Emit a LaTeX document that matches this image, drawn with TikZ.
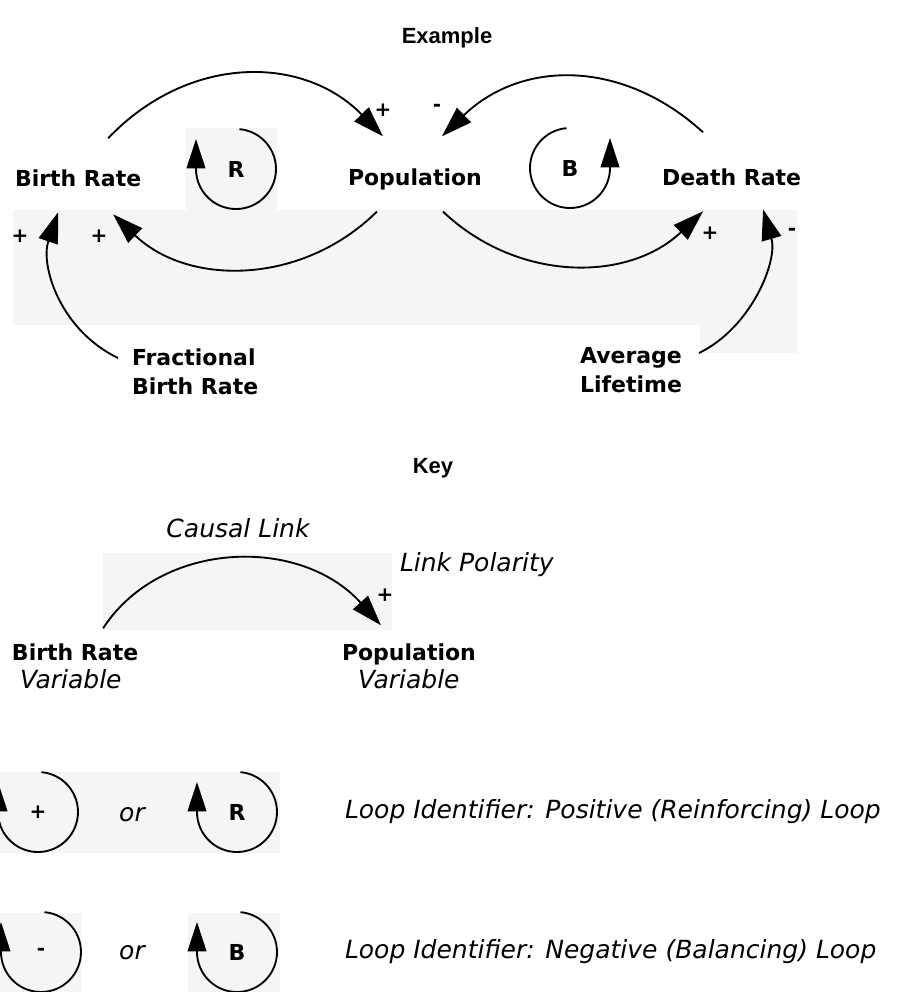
\documentclass[tikz,border=0pt]{standalone}
\usepackage{fontspec}
\newfontfamily\dvs{DejaVu Sans}
\newfontfamily\lsans{Liberation Sans}
\usetikzlibrary{arrows.meta}
\begin{document}
\begin{tikzpicture}[x=0.75pt,y=-0.75pt,
  every node/.style={inner sep=0pt,outer sep=0pt},
  var/.style={font=\fontsize{16.5}{20}\selectfont\dvs\bfseries},
  multivar/.style={align=left,font=\fontsize{16.5}{21.75}\selectfont\dvs\bfseries},
  heading/.style={font=\fontsize{16.5}{20}\selectfont\lsans\bfseries},
  note/.style={font=\fontsize{18.75}{22}\selectfont\dvs\itshape},
  polarity/.style={font=\fontsize{15}{17}\selectfont\dvs\bfseries},
  loopid/.style={circle,minimum size=60pt,font=\fontsize{16.5}{20}\selectfont\dvs\bfseries},
  link/.style={line width=1.4pt,-{Triangle[length=23pt,width=15pt]}},
  loopline/.style={line width=1.4pt,-{Triangle[length=22pt,width=14pt]}},
  backdrop/.style={fill=black!4,draw=none}
]
\useasboundingbox (0,0) rectangle (896,992);

% faint backdrops behind parts of the drawing
\fill[backdrop] (186,128) rectangle (277,210);
\fill[backdrop] (13,210) rectangle (797,325);
\fill[backdrop] (700,325) rectangle (797,353);
\fill[backdrop] (103,553) rectangle (392,630);
\fill[backdrop] (0,772) rectangle (280,853);
\fill[backdrop] (0,913) rectangle (82,992);
\fill[backdrop] (188,913) rectangle (280,992);

% ---------------- Example ----------------
\node[heading] (ex) at (447,38) {Example};

\node[var,anchor=base west] (br)  at (15,186)  {Birth Rate};
\node[var,anchor=base west] (pop) at (348,185) {Population};
\node[var,anchor=base west] (dr)  at (662,185) {Death Rate};
\node[multivar,anchor=north west] (fbr) at (132,349) {Fractional\\Birth Rate};
\node[multivar,anchor=north west] (al)  at (580,347) {Average\\Lifetime};

\node[loopid] (R) at (236,169) {R};
\node[loopid] (B) at (570,168) {B};

% causal links
\draw[link] ([shift={(30,-31)}]br.north) .. controls +(80,-84) and +(-80,-82) .. ([shift={(-32,-32)}]pop.north);
\draw[link] ([shift={(-28.5,-36)}]dr.north) .. controls +(-80,-73) and +(80,-77) .. ([shift={(27,-32)}]pop.north);
\draw[link] ([shift={(-38,22)}]pop.south) .. controls +(-75,74) and +(75,72) .. ([shift={(35,28)}]br.south);
\draw[link] ([shift={(28,22)}]pop.south) .. controls +(75,71) and +(-75,71) .. ([shift={(-28.5,26)}]dr.south);
\draw[link] ([shift={(-14,9)}]fbr.north west) .. controls +(-58,-28) and +(-18,53) .. ([shift={(-20,26)}]br.south);
\draw[link] ([shift={(17,6)}]al.north east) .. controls +(52,-25) and +(15,52) .. ([shift={(31.5,24)}]dr.south);

% loop markers
\draw[loopline] (R.85) arc[start angle=85,end angle=-180,radius=30pt] -- ++(0,-30);
\draw[loopline] (B.95) arc[start angle=95,end angle=360,radius=30pt] -- ++(0,-30);

% link polarities
\node[polarity] (s1) at (383,110) {+};
\node[polarity] (s2) at (437,108) {-};
\node[polarity] (s3) at (20,236)  {+};
\node[polarity] (s4) at (99,236)  {+};
\node[polarity] (s5) at (710,233) {+};
\node[polarity] (s6) at (792,232) {-};

% ---------------- Key ----------------
\node[heading] (key) at (433,468) {Key};
\node[note] (cl) at (238,528) {Causal Link};
\node[note,anchor=west] (lp) at (400,565) {Link Polarity};

\node[var,anchor=base west]  (kbr)   at (12,660)  {Birth Rate};
\node[note,anchor=base west] (kbrv)  at (20,688)  {Variable};
\node[var,anchor=base west]  (kpop)  at (342,660) {Population};
\node[note,anchor=base west] (kpopv) at (358,688) {Variable};

\draw[link] ([shift={(28,-15)}]kbr.north) .. controls +(57,-88) and +(-81,-90) .. ([shift={(-28,-18)}]kpop.north);
\node[polarity] (kp) at (385,595) {+};

% loop identifiers
\node[loopid,font=\fontsize{15}{17}\selectfont\dvs\bfseries] (ipos) at (38,812) {+};
\node[loopid] (iR) at (237,812) {R};
\node[loopid,font=\fontsize{15}{17}\selectfont\dvs\bfseries] (ineg) at (41,952) {-};
\node[loopid] (iB) at (237,952) {B};
\foreach \n in {ipos,iR,ineg,iB}
  \draw[loopline] (\n.85) arc[start angle=85,end angle=-180,radius=30pt] -- ++(0,-30);

\node[note] (or1) at (132,815) {or};
\node[note] (or2) at (132,953) {or};
\node[note,anchor=west] (lid1) at (345,812) {Loop Identifier: Positive (Reinforcing) Loop};
\node[note,anchor=west] (lid2) at (345,952) {Loop Identifier: Negative (Balancing) Loop};
\end{tikzpicture}
\end{document}
